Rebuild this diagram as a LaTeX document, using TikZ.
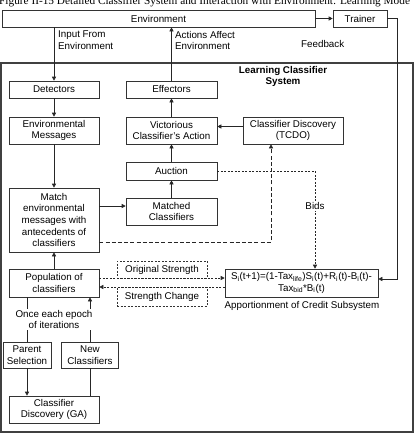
\documentclass[tikz,border=0pt]{standalone}
\usepackage{fontspec}
\setmainfont{Liberation Sans}
\newfontfamily\capfont{Liberation Serif}
\usetikzlibrary{arrows.meta}
\begin{document}
\begin{tikzpicture}[x=1pt,y=-1pt,
  every node/.style={font=\fontsize{9.8}{11.7}\selectfont, inner sep=1pt},
  box/.style={draw=black!80, line width=0.6pt, align=center, fill=white},
  dbox/.style={draw=black!80, line width=0.6pt, align=center, dash pattern=on 2pt off 1.5pt},
  arr/.style={-{Triangle[length=4pt,width=4pt]}},
  ln/.style={line width=0.6pt, draw=black!85},
  longdash/.style={dash pattern=on 4pt off 2.2pt},
  finedash/.style={dash pattern=on 2pt off 1.5pt},
  lbl/.style={align=left, anchor=west}
]
\useasboundingbox (0,0) rectangle (419,447);
\clip (0,0) rectangle (419,447);
% caption (cut off at top, as in the reference)
\node[anchor=base west, inner sep=0pt, font=\capfont\fontsize{11.3}{13}\selectfont] (cap) at (-1,5) {Figure II-15 Detailed Classifier System and Interaction with Environment: Learning Mode};

% container
\node[draw=black!75, line width=1.3pt, minimum width=412pt, minimum height=369pt, inner sep=0pt] (lcs) at (207,247.5) {};
\node[font=\bfseries\fontsize{9.8}{11.2}\selectfont, align=center] (lcstitle) at (283,76.5) {Learning Classifier\\System};

% boxes
\node[box, minimum width=313pt, minimum height=17pt] (env) at (158.5,18.5) {Environment};
\node[box, minimum width=54pt, minimum height=17pt] (trainer) at (360,18.5) {Trainer};
\node[box, minimum width=90pt, minimum height=17pt] (det) at (54,89.5) {Detectors};
\node[box, minimum width=90pt, minimum height=27pt] (envmsg) at (54,130.5) {Environmental\\Messages};
\node[box, minimum width=90pt, minimum height=64pt] (match) at (54,220) {Match\\environmental\\messages with\\antecedents of\\classifiers};
\node[box, minimum width=90pt, minimum height=28pt] (pop) at (54,283) {Population of\\classifiers};
\node[box, minimum width=48pt, minimum height=26pt] (parent) at (27,355) {Parent\\Selection};
\node[box, minimum width=57pt, minimum height=26pt] (newcl) at (90,355) {New\\Classifiers};
\node[box, minimum width=90pt, minimum height=27pt] (ga) at (54,409.5) {Classifier\\Discovery (GA)};
\node[box, minimum width=91pt, minimum height=17pt] (eff) at (171.5,89.5) {Effectors};
\node[box, minimum width=91pt, minimum height=27pt] (vic) at (171.5,130.5) {Victorious\\Classifier's Action};
\node[box, minimum width=91pt, minimum height=18pt] (auction) at (171.5,171) {Auction};
\node[box, minimum width=91pt, minimum height=27pt] (matched) at (171.5,211.5) {Matched\\Classifiers};
\node[box, minimum width=100pt, minimum height=27pt] (tcdo) at (293,130.5) {Classifier Discovery\\(TCDO)};
\node[box, minimum width=153pt, minimum height=28pt] (formula) at (301.5,283) {S\textsubscript{i}(t+1)=(1-Tax\textsubscript{life})S\textsubscript{i}(t)+R\textsubscript{i}(t)-B\textsubscript{i}(t)-\\Tax\textsubscript{bid}*B\textsubscript{i}(t)};
\node (apport) at (302,305.5) {Apportionment of Credit Subsystem};
\node[dbox, minimum width=90pt, minimum height=17pt] (origS) at (162,269.5) {Original Strength};
\node[dbox, minimum width=90pt, minimum height=19pt] (strC) at (162,296.5) {Strength Change};

% labels
\node[lbl] (inlbl) at (57,40.5) {Input From\\Environment};
\node[lbl] (actlbl) at (174,40.5) {Actions Affect\\Environment};
\node[lbl] (fb) at (300,44) {Feedback};

% solid connectors
\draw[ln, arr] (env.east) -- (trainer.west);
\draw[ln, arr] (trainer.east) -- ++(10,0) |- ([yshift=4pt]formula.east);
\draw[ln, arr] (env.south -| det.north) -- (det.north);
\draw[ln, arr] (eff.north) -- (eff.north |- env.south);
\draw[ln, arr] (det.south) -- (envmsg.north);
\draw[ln, arr] (envmsg.south) -- (match.north);
\draw[ln, arr] (pop.north) -- (match.south);
\draw[ln, arr] ([yshift=14pt]match.east) -- ([yshift=14pt]match.east -| matched.west);
\draw[ln, arr] (matched.north) -- (auction.south);
\draw[ln, arr] (auction.north) -- (vic.south);
\draw[ln, arr] (vic.north) -- (eff.south);
\draw[ln, arr] ([yshift=4pt]tcdo.west) -- ([yshift=4pt]tcdo.west -| vic.east);

% dashed connectors
\draw[ln, longdash, arr] ([yshift=-22pt]match.east) -| ([xshift=-22pt]tcdo.south);
\draw[ln, finedash, arr] (auction.east) -| ([xshift=13.5pt]formula.north);
\node[fill=white, inner sep=1.5pt] (bids) at (315,206) {Bids};
\draw[ln, finedash, arr] ([yshift=5pt]pop.east) -- ([yshift=5pt]formula.west);
\draw[ln, finedash, arr] ([yshift=-4pt]formula.west) -- ([yshift=-4pt]pop.east);

% lower part
\draw[ln] (parent.north) -- (parent.north |- pop.south);
\draw[ln, arr] (newcl.north) -- (newcl.north |- pop.south);
\draw[ln, arr] (parent.south) -- (parent.south |- ga.north);
\draw[ln] (newcl.south) -- (newcl.south |- ga.north);
\node[fill=white, align=center, inner sep=1pt] (epoch) at (54,319.5) {Once each epoch\\of iterations};
\end{tikzpicture}
\end{document}
